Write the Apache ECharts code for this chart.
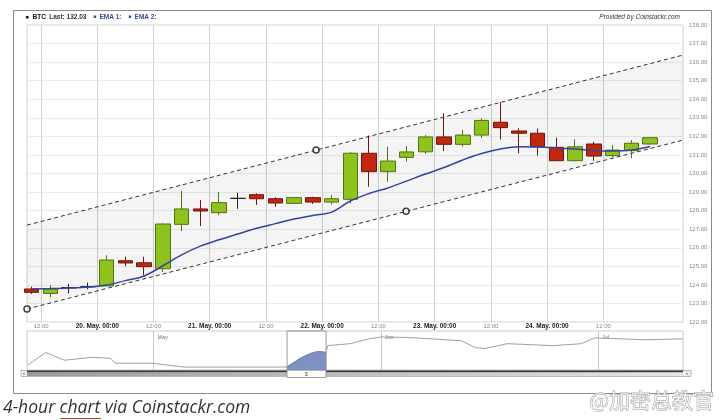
<!DOCTYPE html>
<html><head><meta charset="utf-8">
<script src="https://cdn.jsdelivr.net/npm/echarts@6/dist/echarts.min.js"></script>
<style>html,body{margin:0;padding:0;background:#fff}#c{width:720px;height:420px}</style>
</head><body><div id="c"></div>
<script>
// ---- data (hours relative to 20 May 00:00) ----
const candleHours = [-14,-10,-6,-2,2,6,10,14,18,22,26,30,34,38,42,46,50,54,58,62,66,70,74,78,82,86,90,94,98,102,106,110,114,118];
const openVals  = [123.78,123.54,123.85,123.90,123.94,125.30,125.19,124.87,127.26,128.09,127.89,128.66,128.86,128.64,128.39,128.70,128.46,128.61,131.09,130.10,130.87,131.17,131.97,131.57,132.07,132.76,132.29,132.17,131.41,130.69,131.59,130.96,131.23,131.59];
const closeVals = [123.60,123.78,123.85,123.90,125.34,125.18,124.98,127.28,128.09,127.98,128.43,128.66,128.64,128.41,128.70,128.46,128.64,131.09,130.10,130.67,131.16,131.97,131.57,132.07,132.86,132.47,132.17,131.44,130.69,131.44,130.94,131.26,131.63,131.93];
const lowVals   = [123.51,123.33,123.54,123.76,123.94,125.00,124.51,124.69,126.90,127.17,127.76,128.10,128.30,128.21,128.35,128.36,128.34,128.39,129.29,129.56,130.64,131.05,131.21,131.44,131.90,131.84,131.09,130.96,130.69,130.65,130.69,130.87,130.82,131.55];
const highVals  = [123.90,123.97,124.05,124.12,125.59,125.52,125.52,127.32,129.07,128.57,129.00,128.97,128.93,128.72,128.74,128.75,128.84,131.15,132.04,131.44,131.48,132.07,133.24,132.34,132.97,133.84,132.43,132.43,131.93,131.84,131.71,131.53,131.80,131.95];
const emaVals   = [123.78,123.80,123.83,123.88,123.99,124.23,124.48,125.03,125.62,126.09,126.43,126.74,127.05,127.30,127.55,127.74,127.92,128.52,128.92,129.22,129.59,129.97,130.32,130.73,131.08,131.32,131.44,131.43,131.37,131.32,131.24,131.21,131.26,131.45];

const xTickHours  = [-12,0,12,24,36,48,60,72,84,96,108];
const xTickLabels = ['12:00','20. May. 00:00','12:00','21. May. 00:00','12:00','22. May. 00:00','12:00','23. May. 00:00','12:00','24. May. 00:00','12:00'];

const channelHours = [-15,125];
const channelUpper = [127.22,136.38];
const channelLower = [122.70,131.80];
const anchorHours  = [-15,46.7,65.9];
const anchorVals   = [122.70,131.26,127.97];

const lastPrice = '132.03';

// navigator (days)
const navDays = [0.1,2.4,4.8,8.3,10.7,11.3,16.0,20.1,33.2,35.0,36.3,37.3,38.3,38.5,41.4,43.8,45.5,49.7,55.6,57.4,58.6,61.5,67.4,71.0,72.7,79.2,84];
const navVals = [5,18,10,13,12,7,7,3,3,12,17,19,18,25,27,32,34,33,30,23,22,27,25,27,33,31,32];
const navWindowDays = [33.3,35.0,36.3,37.3,38.3];
const navWindowVals = [3,12,17,19,18];
const navMonthDays = [16.2,45.3,73.1];
const navMonthLabels = ['May','Jun','Jul'];

// ---- build ----
const zip = (a,b) => a.map((v,i)=>[v,b[i]]);
const candleData = candleHours.map((t,i)=>[t,openVals[i],closeVals[i],lowVals[i],highVals[i]]);
const bandData = channelHours.map((t,i)=>[t,channelLower[i],channelUpper[i]]);
const FONT = 'Liberation Sans, Arial, sans-serif';

const chart = echarts.init(document.getElementById('c'), null, {renderer:'canvas'});
chart.setOption({
  animation:false,
  backgroundColor:'#fff',
  grid:[
    {left:27,right:37,top:25,height:297,show:true,borderColor:'#cfcfcf',borderWidth:1,backgroundColor:'#fff'},
    {left:27,right:37,top:331,height:39,show:true,borderColor:'#c8c8c8',borderWidth:1}
  ],
  xAxis:[
    {type:'value',gridIndex:0,min:-15,max:125,
     axisLine:{show:false},
     axisTick:{show:false,customValues:xTickHours},
     splitLine:{show:true,lineStyle:{color:'#d2d2d2',width:1}},
     axisLabel:{customValues:xTickHours,margin:1,fontSize:6,fontFamily:FONT,
       formatter:v=>{const i=xTickHours.indexOf(v);const s=xTickLabels[i]||'';return s.indexOf('May')>=0?'{d|'+s+'}':'{t|'+s+'}';},
       rich:{d:{fontSize:6.5,fontWeight:'bold',color:'#222',fontFamily:FONT},t:{fontSize:6,color:'#888',fontFamily:FONT}}}},
    {type:'value',gridIndex:1,min:0,max:84,position:'top',
     axisLine:{show:false},
     axisTick:{show:false,customValues:navMonthDays},
     splitLine:{show:true,lineStyle:{color:'#c8c8c8'}},
     axisLabel:{customValues:navMonthDays,inside:true,margin:3,align:'left',padding:[0,0,0,4],fontSize:5.5,color:'#777',fontFamily:FONT,
       formatter:v=>navMonthLabels[navMonthDays.indexOf(v)]||''}}
  ],
  yAxis:[
    {type:'value',gridIndex:0,min:122,max:138,interval:1,position:'right',
     axisLine:{show:false},axisTick:{show:false},
     splitLine:{lineStyle:{color:'#ececec'}},
     axisLabel:{fontSize:6,color:'#8a8a8a',margin:6,fontFamily:FONT,formatter:v=>v.toFixed(2)}},
    {type:'value',gridIndex:1,min:0,max:40,show:false,splitLine:{show:false}}
  ],
  series:[
    {type:'custom',name:'band',data:bandData,encode:{x:0,y:[1,2]},silent:true,z:1,clip:true,
     renderItem:(params,api)=>{
       if(params.dataIndex!==0) return null;
       const p=[];
       for(let i=0;i<bandData.length;i++) p.push(api.coord([bandData[i][0],bandData[i][2]]));
       for(let i=bandData.length-1;i>=0;i--) p.push(api.coord([bandData[i][0],bandData[i][1]]));
       return {type:'polygon',shape:{points:p},style:{fill:'rgba(0,0,0,0.045)'}};
     }},
    {type:'line',name:'upper',data:zip(channelHours,channelUpper),symbol:'none',lineStyle:{color:'#333',width:1,type:[4,3]},z:3},
    {type:'line',name:'lower',data:zip(channelHours,channelLower),symbol:'none',lineStyle:{color:'#333',width:1,type:[4,3]},z:3},
    {type:'candlestick',name:'BTC',data:candleData,encode:{x:0,y:[1,2,3,4]},barWidth:15,z:4,
     itemStyle:{color:'#8dc21f',color0:'#c1260f',borderColor:'#55700f',borderColor0:'#6e1607',borderColorDoji:'#222',borderWidth:1}},
    {type:'line',name:'EMA',data:zip(candleHours,emaVals),symbol:'none',smooth:0.35,lineStyle:{color:'#34449a',width:1.5},z:5},
    {type:'scatter',name:'anchors',data:zip(anchorHours,anchorVals),symbol:'circle',symbolSize:6,
     itemStyle:{color:'#fff',borderColor:'#111',borderWidth:1.5},z:6},
    {type:'line',name:'navigator',xAxisIndex:1,yAxisIndex:1,data:zip(navDays,navVals),symbol:'none',lineStyle:{color:'#a0a0a0',width:1}},
    {type:'line',name:'navWindow',xAxisIndex:1,yAxisIndex:1,data:zip(navWindowDays,navWindowVals),symbol:'none',
     lineStyle:{color:'#6c80b4',width:1},areaStyle:{color:'#7d91c3',opacity:1},
     markArea:{silent:true,itemStyle:{color:'rgba(0,0,0,0)',borderColor:'#999',borderWidth:1},
       data:[[{xAxis:navWindowDays[0]},{xAxis:navWindowDays[navWindowDays.length-1]}]]}}
  ],
  graphic:[
    {type:'rect',shape:{x:13.5,y:10.5,width:698,height:383},style:{fill:'none',stroke:'#8c8c8c',lineWidth:1},z:0,silent:true},
    {type:'text',x:25,y:17,style:{text:'{dot|●} {b|BTC} {g|Last: '+lastPrice+'}  {sq|■} {e|EMA 1:}  {sq|■} {e|EMA 2:}',verticalAlign:'middle',
      rich:{dot:{fontSize:7,fill:'#111'},b:{fontSize:6.5,fontWeight:'bold',fill:'#111',fontFamily:FONT},
            g:{fontSize:6.5,fill:'#333',fontWeight:'bold',fontFamily:FONT},sq:{fontSize:5,fill:'#3a4b9c'},
            e:{fontSize:6.5,fill:'#3a4b9c',fontWeight:'bold',fontFamily:FONT}}}},
    {type:'text',x:680,y:17,style:{text:'Provided by Coinstackr.com',align:'right',verticalAlign:'middle',fontSize:6.5,fontStyle:'italic',fontFamily:FONT,fill:'#333'}},
    // scrollbar
    {type:'rect',shape:{x:21,y:370.5,width:670,height:6},style:{fill:'#eeeeee',stroke:'#aaa',lineWidth:0.8}},
    {type:'rect',shape:{x:27,y:370.5,width:656,height:2},style:{fill:'#3a3a3a'}},
    {type:'rect',shape:{x:27,y:372.5,width:656,height:3.5},style:{fill:new echarts.graphic.LinearGradient(0,0,1,0,[{offset:0,color:'#9a9a9a'},{offset:1,color:'#e6e6e6'}])}},
    {type:'rect',shape:{x:287,y:370,width:39,height:7.5},style:{fill:'#fafafa',stroke:'#888',lineWidth:0.8}},
    {type:'text',x:306.5,y:374,style:{text:'≡',align:'center',verticalAlign:'middle',fontSize:6,fill:'#333'}},
    {type:'text',x:24,y:373.5,style:{text:'‹',align:'center',verticalAlign:'middle',fontSize:6,fill:'#333'}},
    {type:'text',x:687,y:373.5,style:{text:'›',align:'center',verticalAlign:'middle',fontSize:6,fill:'#333'}},
    // caption
    {type:'text',x:3,y:408,style:{text:'4-hour chart via Coinstackr.com',verticalAlign:'middle',fontSize:17.5,fontStyle:'italic',fontFamily:'Open Sans, Lato, sans-serif',fill:'#333'}},
    {type:'line',shape:{x1:60,y1:418.5,x2:101,y2:418.5},style:{stroke:'#c0392b',lineWidth:1.2}},
    // watermark
    {type:'text',x:714,y:400,style:{text:'@加密总教官',align:'right',verticalAlign:'middle',fontSize:21,fontFamily:'Noto Sans CJK SC, sans-serif',fill:'rgba(255,255,255,0.75)',stroke:'#9a9a9a',lineWidth:0.9},z:100}
  ]
});
</script></body></html>
